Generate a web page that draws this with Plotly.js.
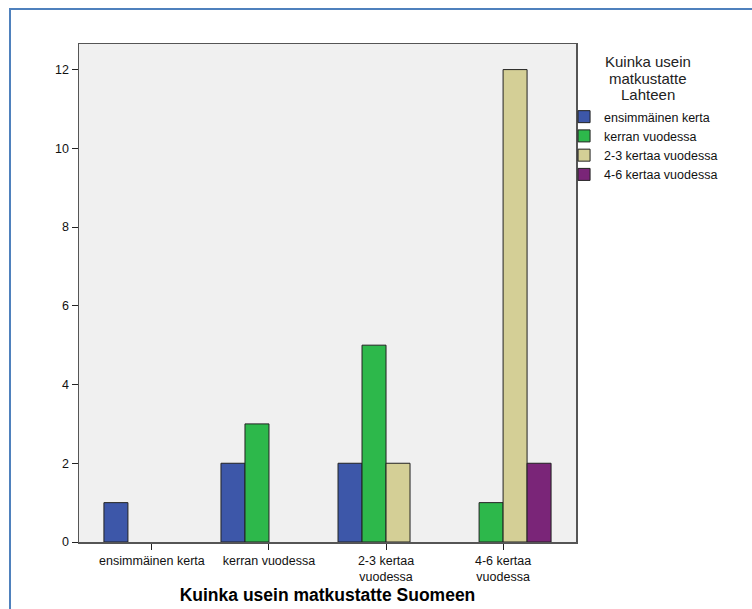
<!DOCTYPE html>
<html>
<head>
<meta charset="utf-8">
<script src="https://cdn.plot.ly/plotly-3.0.1.min.js"></script>
<style>
  html, body { margin: 0; padding: 0; background: #ffffff; }
  #wrap { position: relative; width: 752px; height: 609px; overflow: hidden; }
  #frame { position: absolute; left: 9px; top: 8px; width: 800px; height: 700px;
           border-left: 2px solid #4F81BD; border-top: 2px solid #4F81BD; pointer-events: none; }
  #chart { position: absolute; left: 0; top: 0; width: 752px; height: 609px; }
</style>
</head>
<body>
<div id="wrap">
  <div id="frame"></div>
  <div id="chart"></div>
</div>
<script>
const categories = ["ensimmäinen kerta", "kerran vuodessa", "2-3 kertaa<br>vuodessa", "4-6 kertaa<br>vuodessa"];
const seriesNames = ["ensimmäinen kerta", "kerran vuodessa", "2-3 kertaa vuodessa", "4-6 kertaa vuodessa"];
const legendTitleLines = ["Kuinka usein", "matkustatte", "Lahteen"];
const valuesEnsimmainen = [1, 2, 2, null];
const valuesKerran = [null, 3, 5, 1];
const values23 = [null, null, 2, 12];
const values46 = [null, null, null, 2];
const yTicks = [0, 2, 4, 6, 8, 10, 12];
const colors = ["#3D57A9", "#2DB84B", "#D4CF96", "#7A2578"];

const allValues = [valuesEnsimmainen, valuesKerran, values23, values46];
const traces = allValues.map((vals, i) => ({
  type: "bar",
  name: seriesNames[i],
  x: categories,
  y: vals,
  marker: { color: colors[i], line: { color: "#222222", width: 1 } },
  hoverinfo: "x+y+name"
}));

const titleYs = [0.9639, 0.9307, 0.8976];
const annotations = legendTitleLines.map((t, i) => ({
  xref: "paper", yref: "paper",
  x: 1.145, y: titleYs[i],
  xanchor: "center", yanchor: "middle",
  showarrow: false,
  text: t,
  font: { size: 15, color: "#222222", family: "Arial, 'Liberation Sans', sans-serif" }
}));

const layout = {
  width: 752,
  height: 609,
  margin: { l: 79, r: 176, t: 44, b: 67 },
  paper_bgcolor: "rgba(0,0,0,0)",
  plot_bgcolor: "#F0F0F0",
  font: { family: "Arial, 'Liberation Sans', sans-serif", size: 12.5, color: "#111111" },
  barmode: "group",
  bargap: 0.18,
  bargroupgap: 0,
  showlegend: true,
  annotations: annotations,
  xaxis: {
    type: "category",
    range: [-0.623, 3.623],
    showline: true, mirror: true, linecolor: "#555555", linewidth: 1.5,
    ticks: "outside", ticklen: 6, tickcolor: "#222222", tickwidth: 1,
    showgrid: false, zeroline: false,
    tickfont: { size: 12.5, color: "#111111" },
    title: { text: "Kuinka usein matkustatte Suomeen", font: { size: 17.5, color: "#000000", family: "Arial, 'Liberation Sans', sans-serif", weight: "bold" }, standoff: 6 }
  },
  yaxis: {
    range: [0, 12.65],
    tickvals: yTicks,
    ticktext: yTicks.map(String),
    showline: true, mirror: true, linecolor: "#555555", linewidth: 1.5,
    ticks: "outside", ticklen: 6, tickcolor: "#222222", tickwidth: 1,
    showgrid: false, zeroline: false,
    tickfont: { size: 12.5, color: "#111111" }
  },
  legend: {
    x: 0.976, xanchor: "left",
    y: 0.8835, yanchor: "top",
    bgcolor: "rgba(0,0,0,0)",
    font: { size: 12.5, color: "#111111" },
    traceorder: "normal",
    itemclick: false
  }
};

Plotly.newPlot("chart", traces, layout, { displayModeBar: false, staticPlot: true });
</script>
</body>
</html>
